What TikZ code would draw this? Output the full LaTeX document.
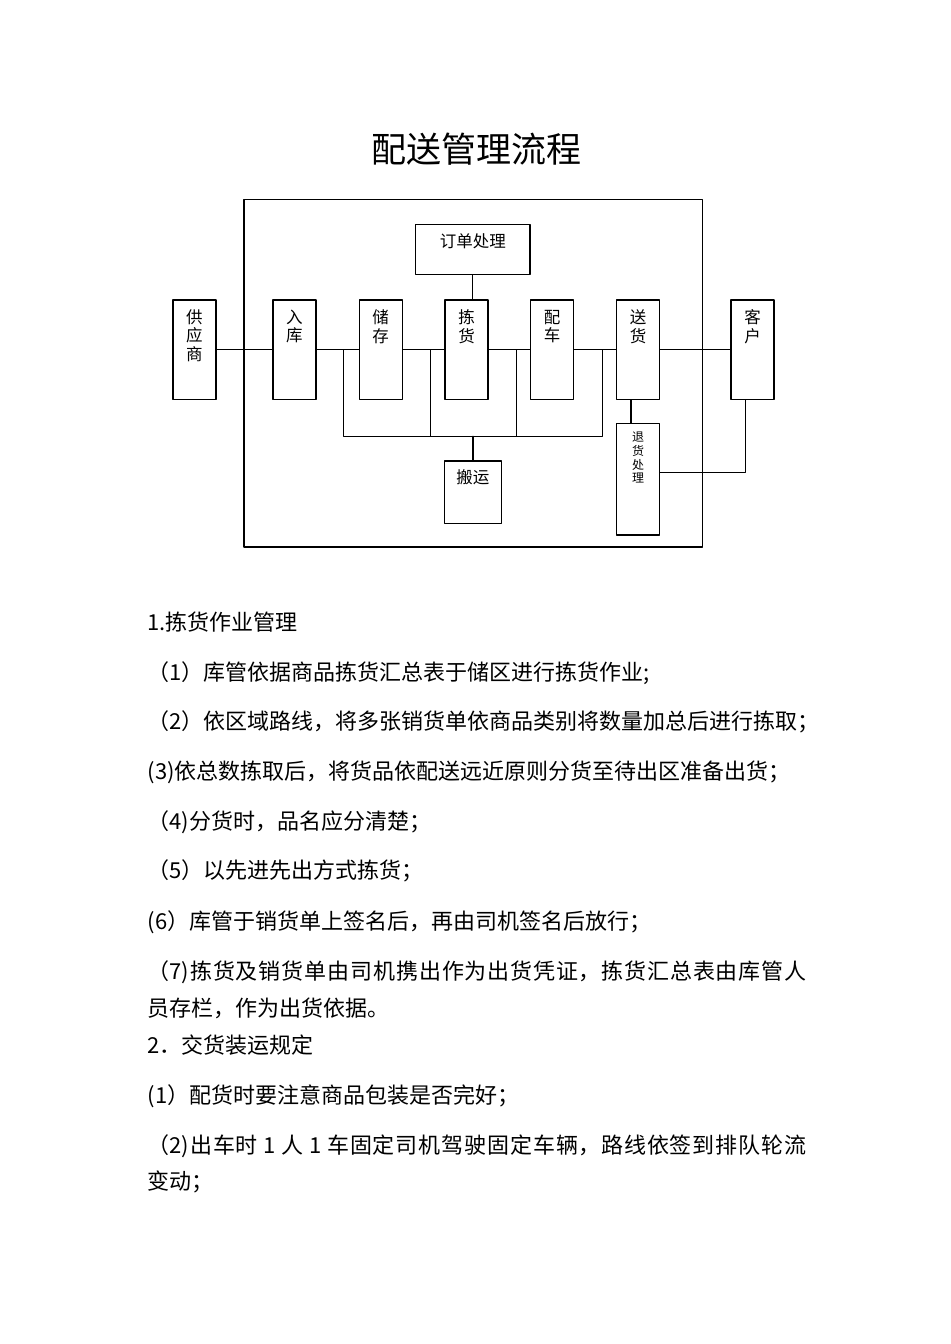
\documentclass[tikz,border=0pt]{standalone}
\usepackage{fontspec}
\setmainfont{Noto Sans CJK SC}

\begin{document}
\begin{tikzpicture}[line cap=round,line join=round,x=0.5pt,y=-0.5pt,line width=0.6pt,
  stagebox/.style={draw,inner sep=0pt,minimum width=21.5pt,minimum height=49.7pt},
  boxtext/.style={align=center,inner sep=0pt,font=\fontsize{8.25}{9.25}\selectfont},
  smalltext/.style={align=center,inner sep=0pt,font=\fontsize{6}{6.85}\selectfont},
  bodyline/.style={anchor=base west,inner sep=0pt,font=\fontsize{11}{13}\selectfont},
  parline/.style={bodyline,text width=329.5pt,align=justify,font=\fontsize{11}{18.3}\selectfont}]
\useasboundingbox (0,0) rectangle (950,1344);
\node[anchor=base,inner sep=0pt,font=\fontsize{17.5}{20}\selectfont] (title) at (476,162.3) {配送管理流程};
% frame
\draw (244,199.3) rectangle (702.7,547);
% stages
\node[stagebox] (gys) at (194.4,349.7) {};
\node[stagebox] (ruku) at (294.4,349.7) {};
\node[stagebox] (chucun) at (380.6,349.7) {};
\node[stagebox] (jianhuo) at (466.5,349.7) {};
\node[stagebox] (peiche) at (552,349.7) {};
\node[stagebox] (songhuo) at (638.2,349.7) {};
\node[stagebox] (kehu) at (752.5,349.7) {};
\node[draw,inner sep=0pt,minimum width=57.2pt,minimum height=25pt] (dingdan) at (472.8,249.3) {};
\node[draw,inner sep=0pt,minimum width=28.65pt,minimum height=31.15pt] (banyun) at (472.9,492.2) {};
\node[stagebox,minimum height=55.85pt] (tuihuo) at (638.2,479.2) {};
\node[boxtext] (gys-t) at ([yshift=7.1pt]gys.center) {供\\应\\商};
\node[boxtext] (ruku-t) at ([yshift=11.6pt]ruku.center) {入\\库};
\node[boxtext] (chucun-t) at ([yshift=11.6pt]chucun.center) {储\\存};
\node[boxtext] (jianhuo-t) at ([yshift=11.6pt]jianhuo.center) {拣\\货};
\node[boxtext] (peiche-t) at ([yshift=11.6pt]peiche.center) {配\\车};
\node[boxtext] (songhuo-t) at ([yshift=11.6pt]songhuo.center) {送\\货};
\node[boxtext] (kehu-t) at ([yshift=11.6pt]kehu.center) {客\\户};
\node[boxtext] (dingdan-t) at ([yshift=3.8pt]dingdan.center) {订单处理};
\node[boxtext] (banyun-t) at ([yshift=7.45pt]banyun.center) {搬运};
\node[smalltext] (tuihuo-t) at ([yshift=10.7pt]tuihuo.center) {退\\货\\处\\理};
% main line
\draw (gys) -- (ruku);
\draw (ruku) -- (chucun);
\draw (chucun) -- (jianhuo);
\draw (jianhuo) -- (peiche);
\draw (peiche) -- (songhuo);
\draw (songhuo) -- (kehu);
\draw (dingdan) -- (dingdan.south |- jianhuo.north);
% carrying bus
\coordinate (tap1) at (343.8,349.7);
\coordinate (tap2) at (430.1,349.7);
\coordinate (tap3) at (516.3,349.7);
\coordinate (tap4) at (602.3,349.7);
\coordinate (bus) at (472.9,436.3);
\draw (tap1) |- (bus) -| (tap4);
\draw (tap2) -- (tap2 |- bus);
\draw (tap3) -- (tap3 |- bus);
\draw (bus) -- (banyun);
% returns
\draw ([xshift=-3.6pt]songhuo.south) -- ([xshift=-3.6pt]tuihuo.north);
\draw ([yshift=3.25pt]tuihuo.east) -| ([xshift=-3.5pt]kehu.south);
% text
\node[bodyline] (h1) at (147,630.7) {1.拣货作业管理};
\node[bodyline] (p1) at (147,680.7) {（1）库管依据商品拣货汇总表于储区进行拣货作业;};
\node[bodyline] (p2) at (147,729.7) {（2）依区域路线，将多张销货单依商品类别将数量加总后进行拣取；};
\node[bodyline] (p3) at (147,779.7) {(3)依总数拣取后，将货品依配送远近原则分货至待出区准备出货；};
\node[bodyline] (p4) at (147,829.7) {（4)分货时，品名应分清楚；};
\node[bodyline] (p5) at (147,878.7) {（5）以先进先出方式拣货；};
\node[bodyline] (p6) at (147,929.7) {(6）库管于销货单上签名后，再由司机签名后放行；};
\node[parline] (p7) at (147,979.7) {\XeTeXlinebreaklocale "zh"\XeTeXlinebreakskip=0pt plus 1.5pt（7)拣货及销货单由司机携出作为出货凭证，拣货汇总表由库管人\linebreak 员存栏，作为出货依据。};
\node[bodyline] (h2) at (147,1053) {2．交货装运规定};
\node[bodyline] (q1) at (147,1103) {(1）配货时要注意商品包装是否完好；};
\node[parline] (q2) at (147,1153) {\XeTeXlinebreaklocale "zh"\XeTeXlinebreakskip=0pt plus 1.5pt（2)出车时 1 人 1 车固定司机驾驶固定车辆，路线依签到排队轮流\linebreak 变动；};
\end{tikzpicture}
\end{document}
